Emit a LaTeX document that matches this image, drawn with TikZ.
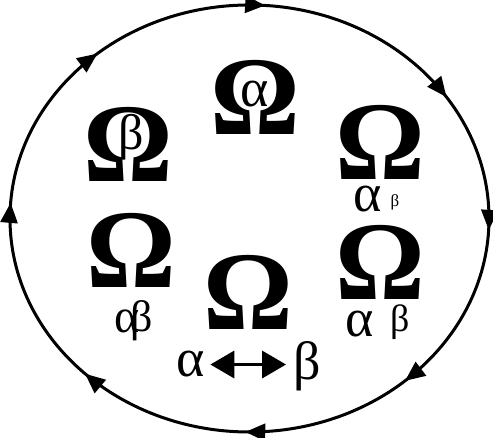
\documentclass[tikz,border=0pt]{standalone}
\usepackage{fontspec}
\setmainfont{Liberation Serif}
\usetikzlibrary{arrows.meta,decorations.markings}
\begin{document}
\begin{tikzpicture}[x=1pt,y=-1pt,
  om/.style={inner sep=0pt,anchor=base,font=\fontsize{112}{112}\selectfont\bfseries},
  gk/.style={inner sep=0pt,anchor=base,font=\fontsize{54}{54}\selectfont},
  flowtip/.style={Triangle[length=20pt,width=17pt]}
]
\useasboundingbox (0,0) rectangle (493,438);
\fill[white] (0,0) rectangle (493,438);
% circular flow
\draw[line width=3pt,
  postaction={decorate},
  decoration={markings,
    mark=at position 0.008 with {\arrow{Triangle[length=20pt,width=17pt]}},
    mark=at position 0.133 with {\arrow{Triangle[length=20pt,width=17pt]}},
    mark=at position 0.253 with {\arrow{Triangle[length=20pt,width=17pt]}},
    mark=at position 0.375 with {\arrow{Triangle[length=20pt,width=17pt]}},
    mark=at position 0.511 with {\arrow{Triangle[length=20pt,width=17pt]}},
    mark=at position 0.636 with {\arrow{Triangle[length=20pt,width=17pt]}},
    mark=at position 0.761 with {\arrow{Triangle[length=20pt,width=17pt]}},
    mark=at position 0.908 with {\arrow{Triangle[length=20pt,width=17pt]}}}]
  (489,218.5) arc[start angle=0,end angle=-360,x radius=239.5pt,y radius=213.5pt];
% omegas
\node[om] (o1) at (255,135) {Ω};
\node[om] (o2) at (128,182) {Ω};
\node[om] (o3) at (380,180) {Ω};
\node[om] (o4) at (131,288) {Ω};
\node[om] (o5) at (248,330) {Ω};
\node[om] (o6) at (380,300) {Ω};
% greek letters
\node[gk] (a1) at (255,107) {α};
\node[gk,font=\fontsize{50}{50}\selectfont] (b2) at (131,150) {β};
\node[gk] (a3) at (368,212) {α};
\node[gk,font=\fontsize{17}{17}\selectfont] (b3) at (395,207) {β};
\node[gk,font=\fontsize{48}{48}\selectfont] (a4) at (127,333) {α};
\node[gk,font=\fontsize{44}{44}\selectfont] (b4) at (142,332) {β};
\node[gk] (a5) at (191,377) {α};
\node[gk] (b5) at (307,380) {β};
\node[gk] (a6) at (360,337) {α};
\node[gk,font=\fontsize{38}{38}\selectfont] (b6) at (400,332) {β};
\draw[line width=3.5pt,{Triangle[length=24pt,width=27pt]}-{Triangle[length=24pt,width=27pt]},
  shorten <=5pt, shorten >=7pt] (a5.east) -- (b5.west |- a5.east);
\end{tikzpicture}
\end{document}
